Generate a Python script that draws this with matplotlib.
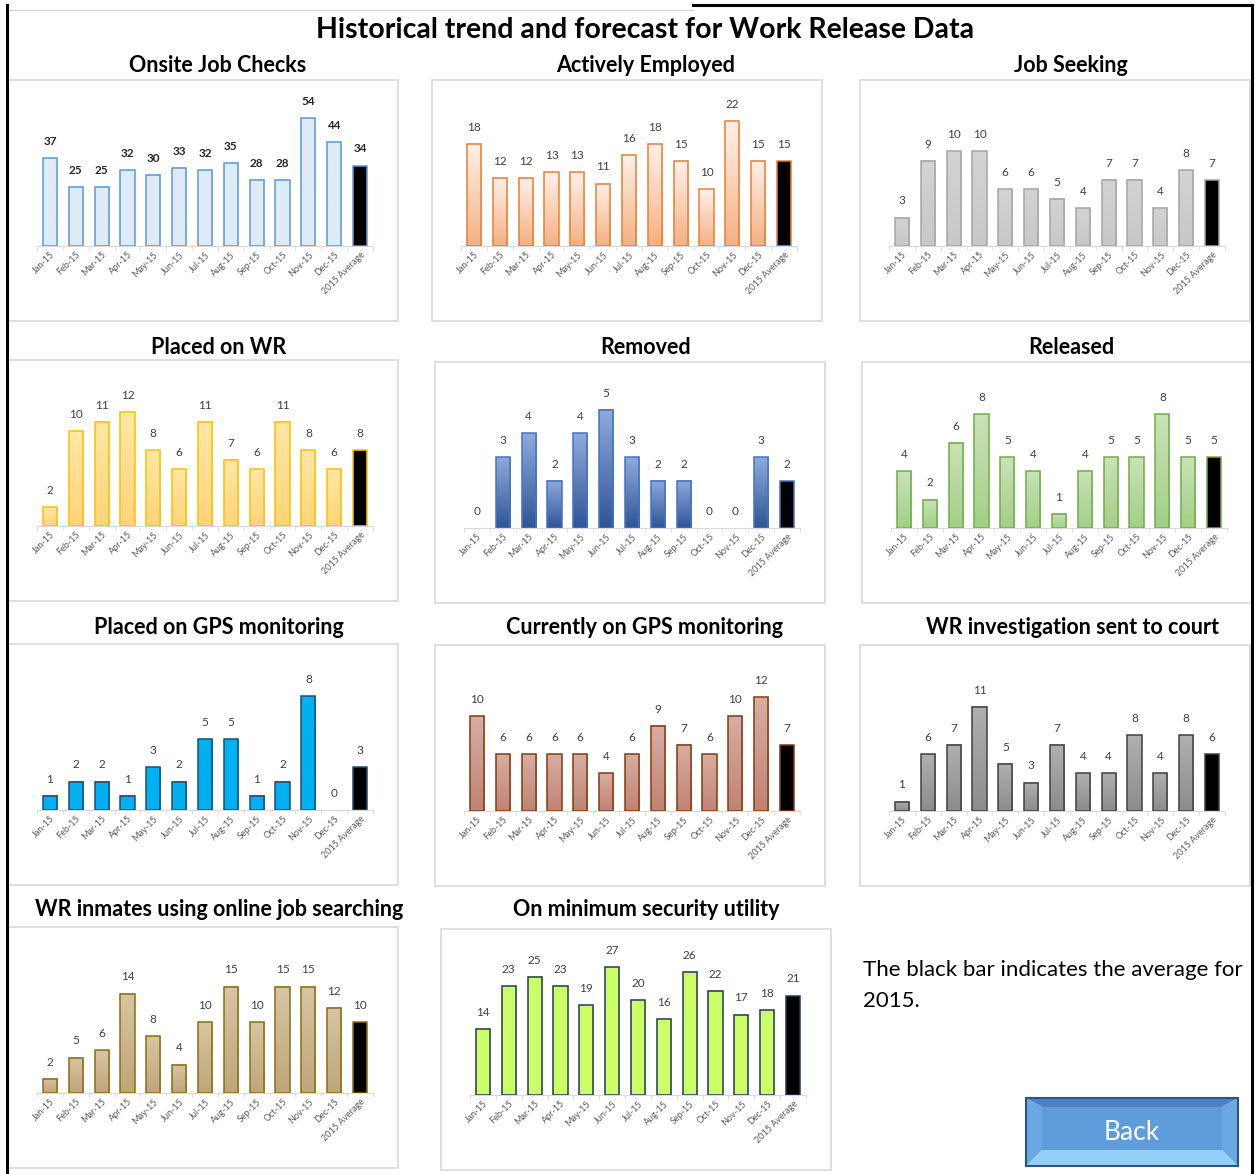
import matplotlib.pyplot as plt
import numpy as np
from matplotlib.patches import Rectangle, Polygon
from matplotlib.lines import Line2D
from matplotlib.colors import LinearSegmentedColormap

plt.rcParams['font.family'] = ['Lato', 'DejaVu Sans']

W, H = 1256, 1174

months = ['Jan-15', 'Feb-15', 'Mar-15', 'Apr-15', 'May-15', 'Jun-15', 'Jul-15',
          'Aug-15', 'Sep-15', 'Oct-15', 'Nov-15', 'Dec-15', '2015 Average']

onsite = [37, 25, 25, 32, 30, 33, 32, 35, 28, 28, 54, 44, 34]
actively = [18, 12, 12, 13, 13, 11, 16, 18, 15, 10, 22, 15, 15]
job_seeking = [3, 9, 10, 10, 6, 6, 5, 4, 7, 7, 4, 8, 7]
placed_wr = [2, 10, 11, 12, 8, 6, 11, 7, 6, 11, 8, 6, 8]
removed = [0, 3, 4, 2, 4, 5, 3, 2, 2, 0, 0, 3, 2]
released = [4, 2, 6, 8, 5, 4, 1, 4, 5, 5, 8, 5, 5]
placed_gps = [1, 2, 2, 1, 3, 2, 5, 5, 1, 2, 8, 0, 3]
current_gps = [10, 6, 6, 6, 6, 4, 6, 9, 7, 6, 10, 12, 7]
wr_court = [1, 6, 7, 11, 5, 3, 7, 4, 4, 8, 4, 8, 6]
online_jobs = [2, 5, 6, 14, 8, 4, 10, 15, 10, 15, 15, 12, 10]
min_security = [14, 23, 25, 23, 19, 27, 20, 16, 26, 22, 17, 18, 21]

titles = ['Onsite Job Checks', 'Actively Employed', 'Job Seeking',
          'Placed on WR', 'Removed', 'Released',
          'Placed on GPS monitoring', 'Currently on GPS monitoring', 'WR investigation sent to court',
          'WR inmates using online job searching', 'On minimum security utility']
series = [onsite, actively, job_seeking, placed_wr, removed, released,
          placed_gps, current_gps, wr_court, online_jobs, min_security]

# axis maximums (like excel's auto scale)
ymax = [60, 25, 15, 15, 6, 10, 10, 15, 15, 20, 30]

# (top colour, bottom colour, edge colour)
styles = [('#DEEBF7', '#DEEBF7', '#5B9BD5'),
          ('#FDF1EA', '#F4B183', '#ED7D31'),
          ('#D3D3D3', '#C8C8C8', '#A5A5A5'),
          ('#FFE7A6', '#FFD47A', '#FFC000'),
          ('#8FAADC', '#2F5597', '#4472C4'),
          ('#C9E2B8', '#A3CF87', '#70AD47'),
          ('#00B0F0', '#00B0F0', '#1F4E79'),
          ('#D8ADA3', '#C08374', '#843C0C'),
          ('#B0B0B0', '#8C8C8C', '#404040'),
          ('#D8C5A2', '#BFA57A', '#8C6D12'),
          ('#CCFF66', '#CCFF66', '#1F3864')]

boxes = [(8, 80), (432, 80), (860, 80), (8, 360), (435, 362), (862, 362),
         (8, 644), (435, 645), (860, 645), (8, 927), (441, 929)]
title_x = [218, 646, 1071, 219, 646, 1071, 219, 645, 1072, 219, 646]
title_y = [66, 66, 66, 347, 347, 347, 628, 628, 628, 910, 910]


def fx(x):
    return x / W


def fy(y):
    return 1 - y / H


fig = plt.figure(figsize=(W / 100, H / 100), dpi=100)

fig.text(fx(645), fy(30), 'Historical trend and forecast for Work Release Data',
         ha='center', va='center', fontsize=20.5, fontweight='bold')

x = np.arange(len(months))
bw = 0.55

for i, vals in enumerate(series):
    bx, by = boxes[i]
    c_top, c_bot, edge = styles[i]
    fig.add_artist(Rectangle((fx(bx), fy(by + 241)), 390 / W, 241 / H, transform=fig.transFigure,
                             fill=False, edgecolor='#D9D9D9', lw=1.2))
    fig.text(fx(title_x[i]), fy(title_y[i]), titles[i], ha='center', va='center',
             fontsize=15.5, fontweight='bold')

    ax = fig.add_axes([fx(bx + 29), fy(by + 166), 336 / W, 142 / H])
    cmap = LinearSegmentedColormap.from_list('g%d' % i, [c_bot, c_top])
    for j, v in enumerate(vals[:-1]):
        if v > 0:
            ax.imshow(np.linspace(0, 1, 64).reshape(-1, 1), extent=[x[j] - bw / 2, x[j] + bw / 2, 0, v],
                      origin='lower', cmap=cmap, aspect='auto', zorder=2, interpolation='bilinear')
    edges = [edge if v > 0 else 'none' for v in vals]
    ax.bar(x[:-1], vals[:-1], width=bw, facecolor='none', edgecolor=edges[:-1], linewidth=1.1, zorder=3)
    ax.bar(x[-1], vals[-1], width=bw, facecolor='black', edgecolor=edges[-1], linewidth=1.1, zorder=3)

    for j, v in enumerate(vals):
        ax.annotate(str(v), (x[j], v), xytext=(0, 8), textcoords='offset points',
                    ha='center', va='bottom', fontsize=8.5,
                    color='#262626' if i == 0 else '#404040',
                    fontweight='bold' if i == 0 else 'normal')

    ax.set_xlim(-0.5, len(months) - 0.5)
    ax.set_ylim(0, ymax[i])
    ax.set_aspect('auto')
    for s in ['top', 'left', 'right']:
        ax.spines[s].set_visible(False)
    ax.spines['bottom'].set_color('#D9D9D9')
    ax.set_yticks([])
    ax.set_xticks(x)
    ax.set_xticklabels(months, rotation=45, ha='right', rotation_mode='anchor',
                       fontsize=6.5, color='#595959')
    ax.tick_params(axis='x', which='major', length=0, pad=3)
    ax.set_xticks(np.arange(-0.5, len(months)), minor=True)
    ax.tick_params(axis='x', which='minor', length=3, color='#D9D9D9')
    ax.patch.set_alpha(0)

# note text
fig.text(fx(863), fy(970), 'The black bar indicates the average for', va='center', fontsize=16)
fig.text(fx(863), fy(1001), '2015.', va='center', fontsize=16)

# back button
x0, y0, x1, y1 = 1026, 1098, 1238, 1166
ix0, iy0, ix1, iy1 = 1042, 1107, 1222, 1150
def poly(pts, color):
    fig.add_artist(Polygon([(fx(a), fy(b)) for a, b in pts], closed=True, transform=fig.transFigure,
                           facecolor=color, edgecolor='none'))
poly([(x0, y0), (x1, y0), (ix1, iy0), (ix0, iy0)], '#4A82C2')
poly([(x0, y1), (x1, y1), (ix1, iy1), (ix0, iy1)], '#93CEF6')
poly([(x0, y0), (ix0, iy0), (ix0, iy1), (x0, y1)], '#6AA8E2')
poly([(x1, y0), (ix1, iy0), (ix1, iy1), (x1, y1)], '#6AA8E2')
poly([(ix0, iy0), (ix1, iy0), (ix1, iy1), (ix0, iy1)], '#5E9CDA')
fig.add_artist(Rectangle((fx(x0), fy(y1)), (x1 - x0) / W, (y1 - y0) / H, transform=fig.transFigure,
                         fill=False, edgecolor='#2C5680', lw=1.5))
fig.text(fx(1132), fy(1133), 'Back', ha='center', va='center', fontsize=19, color='white')

# page borders
fig.add_artist(Line2D([fx(8), fx(693)], [fy(10), fy(10)], color='#D0D0D0', lw=0.8))
fig.add_artist(Line2D([fx(7), fx(7)], [fy(5), fy(1174)], color='black', lw=2.2))
fig.add_artist(Line2D([fx(693), fx(1256)], [fy(5), fy(5)], color='black', lw=2.2))
fig.add_artist(Rectangle((fx(1251), 0), 5 / W, fy(4), transform=fig.transFigure,
                         facecolor='white', edgecolor='none', zorder=9))
fig.add_artist(Line2D([fx(1252), fx(1252)], [fy(5), fy(1174)], color='black', lw=2.2, zorder=10))

fig.savefig('out.png', dpi=100)
